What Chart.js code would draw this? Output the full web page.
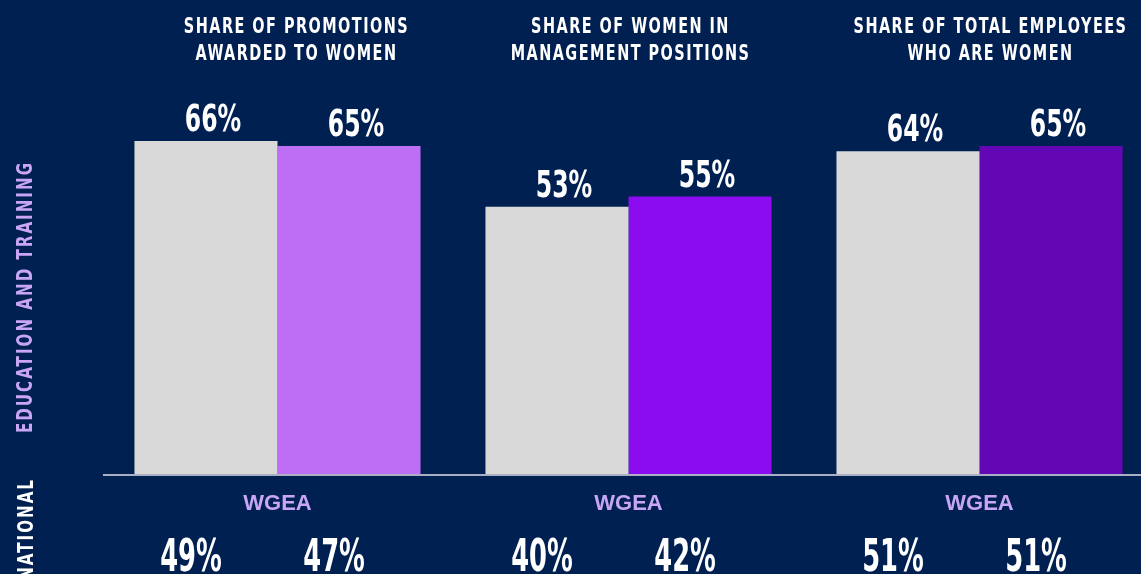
<!DOCTYPE html>
<html>
<head>
<meta charset="utf-8">
<script src="https://cdn.jsdelivr.net/npm/chart.js@4"></script>
<style>
  html, body { margin: 0; padding: 0; background: #002051; overflow: hidden; }
  #wrap { position: relative; width: 1160px; height: 574px; }
</style>
</head>
<body>
<div id="wrap"><canvas id="grafico"></canvas></div>
<script>
// Data
const categorias = [
  ['SHARE OF PROMOTIONS', 'AWARDED TO WOMEN'],
  ['SHARE OF WOMEN IN', 'MANAGEMENT POSITIONS'],
  ['SHARE OF TOTAL EMPLOYEES', 'WHO ARE WOMEN']
];
const valoresCinza = [66, 53, 64];   // grey bars
const valoresRoxo = [65, 55, 65];    // purple bars
const rotuloEixo = ['WGEA', 'WGEA', 'WGEA'];
// next panel (national) values, only the top of it is visible
const nacionalCinza = [49, 40, 51];
const nacionalRoxo = [47, 42, 51];

const corRoxo = ['#bd6ef5', '#8a0cef', '#6306b3'];
const lilas = '#c9a6f5';
const narrow = '"DejaVu Sans Condensed", "DejaVu Sans", sans-serif';
const titleShift = [19, 2, 11];

// draws text with horizontal squeeze, optional rotation / letter spacing
function texto(ctx, str, x, y, o) {
  ctx.save();
  ctx.translate(x, y);
  if (o.rot) ctx.rotate(o.rot);
  ctx.scale(o.sx || 1, 1);
  ctx.font = o.font;
  ctx.letterSpacing = o.ls || '0px';
  ctx.fillStyle = o.color || '#ffffff';
  ctx.textAlign = o.align || 'center';
  ctx.textBaseline = o.base || 'alphabetic';
  ctx.fillText(str, 0, 0);
  ctx.restore();
}

// Overlay: titles, labels, baseline
const overlay = {
  id: 'overlay',
  afterDatasetsDraw(chart) {
    const { ctx, scales: { x, y }, chartArea } = chart;
    ctx.save();

    // baseline
    const y0 = y.getPixelForValue(0);
    ctx.strokeStyle = '#a9b0c6';
    ctx.lineWidth = 2;
    ctx.beginPath();
    ctx.moveTo(chartArea.left + 1, y0 + 1);
    ctx.lineTo(chart.width, y0 + 1);
    ctx.stroke();

    // top titles + WGEA under axis
    categorias.forEach((linhas, i) => {
      const cx = x.getPixelForValue(i) + titleShift[i];
      linhas.forEach((l, j) => {
        texto(ctx, l, cx, 33 + j * 27, { font: 'bold 22px ' + narrow, sx: 0.73, ls: '2px' });
      });
      texto(ctx, rotuloEixo[i], x.getPixelForValue(i), 510,
        { font: 'bold 22px "Liberation Sans", Arial, sans-serif', color: lilas });
    });

    // value labels + national numbers
    const nacional = [nacionalCinza, nacionalRoxo];
    chart.data.datasets.forEach((ds, d) => {
      chart.getDatasetMeta(d).data.forEach((bar, i) => {
        texto(ctx, ds.data[i] + '%', bar.x + 7, bar.y - 10, { font: 'bold 37px ' + narrow, sx: 0.71 });
        texto(ctx, nacional[d][i] + '%', bar.x - 15, 571, { font: 'bold 44px ' + narrow, sx: 0.65 });
      });
    });

    // rotated side labels
    texto(ctx, 'EDUCATION AND TRAINING', 27, 297,
      { font: 'bold 21px ' + narrow, sx: 0.8, ls: '2.5px', color: lilas, rot: -Math.PI / 2, base: 'middle' });
    texto(ctx, 'NATIONAL', 28, 478,
      { font: 'bold 21px ' + narrow, sx: 0.8, ls: '2.5px', rot: -Math.PI / 2, base: 'middle', align: 'right' });

    ctx.restore();
  }
};

const ctx = document.getElementById('grafico').getContext('2d');
const chart = new Chart(ctx, {
  type: 'bar',
  data: {
    labels: categorias.map(c => c.join(' ')),
    datasets: [{
      label: 'Cinza',
      data: valoresCinza,
      backgroundColor: '#d9d9d9',
      borderWidth: 0
    }, {
      label: 'Roxo',
      data: valoresRoxo,
      backgroundColor: corRoxo,
      borderWidth: 0
    }]
  },
  options: {
    responsive: true,
    maintainAspectRatio: false,
    animation: false,
    layout: { padding: { left: 102, right: 5, top: 20, bottom: 100 } },
    datasets: {
      bar: { categoryPercentage: 0.815, barPercentage: 1.0 }
    },
    plugins: {
      legend: { display: false },
      tooltip: { enabled: false }
    },
    scales: {
      x: { display: false },
      y: { display: false, min: 0, max: 90 }
    }
  },
  plugins: [overlay]
});
</script>
</body>
</html>
